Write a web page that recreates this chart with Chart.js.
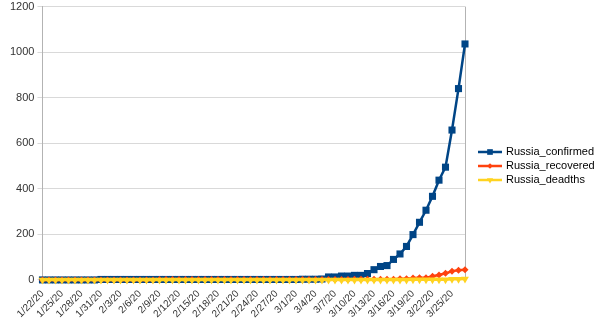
<!DOCTYPE html>
<html>
<head>
<meta charset="utf-8">
<script src="https://cdn.jsdelivr.net/npm/chart.js@4/dist/chart.umd.min.js"></script>
<style>
  html, body { margin: 0; padding: 0; background: #fff; overflow: hidden; }
  #wrap { width: 600px; height: 335px; margin-top: -3px; }
</style>
</head>
<body>
<div id="wrap"><canvas id="covid-chart"></canvas></div>
<script>
// dates 1/22/20 .. 3/27/20
const dates = [];
(() => {
  const monthDays = [[1, 22, 31], [2, 1, 29], [3, 1, 27]];
  monthDays.forEach(([m, from, to]) => {
    for (let d = from; d <= to; d++) dates.push(m + '/' + d + '/20');
  });
})();

const confirmed = [
  0,0,0,0,0,0,0,0,0,2,            // 1/22 - 1/31
  2,2,2,2,2,2,2,2,2,2,2,2,2,2,2,2,2,2,2,2,2,2,2,2,2,2,2,2,2, // 2/1 - 2/29
  2,3,3,3,4,13,13,17,17,20,20,28,45,59,63,90,114,147,199,253,306,367,438,495,658,840,1036 // 3/1 - 3/27
];
const recovered = [
  0,0,0,0,0,0,0,0,0,0,
  0,0,0,0,0,0,0,0,2,2,2,2,2,2,2,2,2,2,2,2,2,2,2,2,2,2,2,2,2,
  2,2,2,2,2,2,2,2,2,3,3,3,3,3,3,3,5,5,8,9,9,16,22,29,38,43,45
];
const deaths = [
  0,0,0,0,0,0,0,0,0,0,
  0,0,0,0,0,0,0,0,0,0,0,0,0,0,0,0,0,0,0,0,0,0,0,0,0,0,0,0,0,
  0,0,0,0,0,0,0,0,0,0,0,0,0,0,0,0,0,0,1,1,1,1,1,1,3,3,4
];
const yTicks = [0, 200, 400, 600, 800, 1000, 1200];

const seriesNames = ['Russia_confirmed', 'Russia_recovered', 'Russia_deadths'];
const seriesColors = ['#004586', '#ff420e', '#ffd320'];
const seriesPoints = [
  { style: 'rect', radius: 5, rotation: 0 },
  { style: 'rectRot', radius: 3.5, rotation: 0 },
  { style: 'triangle', radius: 4.5, rotation: 180 }
];

// legend with line + marker, like the office chart
const sideLegend = {
  id: 'sideLegend',
  afterDraw(chart) {
    const ctx = chart.ctx;
    const x0 = 478, y0 = 155, gap = 14; // canvas is shifted up 3px
    ctx.save();
    ctx.font = '11px "Liberation Sans", Arial, sans-serif';
    ctx.textBaseline = 'middle';
    seriesNames.forEach((name, i) => {
      const y = y0 + i * gap;
      ctx.strokeStyle = seriesColors[i];
      ctx.lineWidth = 2.5;
      ctx.beginPath();
      ctx.moveTo(x0, y);
      ctx.lineTo(x0 + 24, y);
      ctx.stroke();
      const p = seriesPoints[i];
      ctx.fillStyle = seriesColors[i];
      Chart.helpers.drawPoint(ctx, {
        pointStyle: p.style,
        radius: p.radius * 0.8,
        rotation: p.rotation,
        borderWidth: 0
      }, x0 + 12, y);
      ctx.fillStyle = '#000';
      ctx.fillText(name, x0 + 28, y);
    });
    ctx.restore();
  }
};

const setupChart = () => {
  const ctx = document.getElementById('covid-chart').getContext('2d');
  const sets = [confirmed, recovered, deaths];
  new Chart(ctx, {
    type: 'line',
    data: {
      labels: dates,
      datasets: sets.map((vals, i) => ({
        label: seriesNames[i],
        data: vals,
        borderColor: seriesColors[i],
        backgroundColor: seriesColors[i],
        borderWidth: 2.5,
        pointStyle: seriesPoints[i].style,
        pointRadius: seriesPoints[i].radius,
        pointRotation: seriesPoints[i].rotation,
        pointBorderWidth: 0,
        order: 3 - i,
        clip: false,
        tension: 0
      }))
    },
    options: {
      responsive: true,
      maintainAspectRatio: false,
      animation: false,
      layout: { padding: { left: 7, right: 135, top: -7, bottom: 4 } },
      scales: {
        x: {
          offset: false,
          grid: {
            drawTicks: false,
            color: (c) => (c.index === dates.length - 1 ? '#b3b3b3' : 'rgba(0,0,0,0)')
          },
          border: { color: '#b3b3b3' },
          ticks: {
            autoSkip: false,
            maxRotation: 45,
            minRotation: 45,
            padding: 8,
            color: '#333',
            font: { family: '"Liberation Sans", Arial, sans-serif', size: 10 },
            callback: (v, i) => (i % 3 === 0 ? dates[i] : '')
          }
        },
        y: {
          min: 0,
          max: 1200,
          afterBuildTicks: (axis) => { axis.ticks = yTicks.map(v => ({ value: v })); },
          grid: { color: '#d9d9d9', drawTicks: true, tickLength: 5 },
          border: { color: '#b3b3b3' },
          ticks: {
            padding: 3,
            color: '#333',
            font: { family: '"Liberation Sans", Arial, sans-serif', size: 11 },
            callback: (v) => String(v)
          }
        }
      },
      plugins: {
        legend: { display: false },
        tooltip: { enabled: false }
      }
    },
    plugins: [sideLegend]
  });
};
document.addEventListener('DOMContentLoaded', () => {
  setupChart();
});
</script>
</body>
</html>
